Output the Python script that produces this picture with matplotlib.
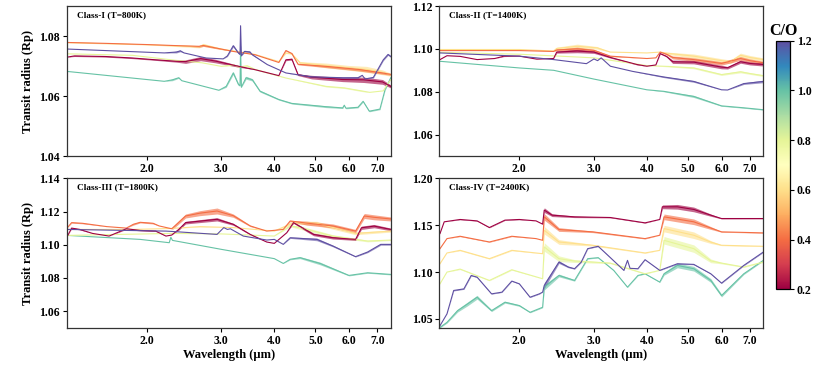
import numpy as np
import matplotlib
matplotlib.use("Agg")
import matplotlib.pyplot as plt
from matplotlib.colors import Normalize
from matplotlib.cm import ScalarMappable
from matplotlib.ticker import FixedLocator, NullLocator, FormatStrFormatter

plt.rcParams['font.family'] = ['Liberation Serif', 'DejaVu Serif']
plt.rcParams['font.weight'] = 'bold'
plt.rcParams['axes.labelweight'] = 'bold'

co_values = [0.2, 0.4, 0.6, 0.8, 1.0, 1.2]
xtick_vals = [2.0, 3.0, 4.0, 5.0, 6.0, 7.0]
titles = ["Class-I (T=800K)", "Class-II (T=1400K)", "Class-III (T=1800K)", "Class-IV (T=2400K)"]
yticks = [[1.04, 1.06, 1.08], [1.06, 1.08, 1.10, 1.12],
          [1.06, 1.08, 1.10, 1.12, 1.14], [1.05, 1.10, 1.15, 1.20]]
ylims = [(1.04, 1.0902), (1.05, 1.12), (1.05, 1.14), (1.0407, 1.20)]

# (wavelength um, transit radius Rp, half-width of the line forest)
# ---- Class-I ----
I_02 = [(1.30,1.0731,0),(1.35,1.0735,0.0002),(1.6,1.0733,0.0002),(1.85,1.0728,0.0002),(2.1,1.0722,0.0002),
        (2.35,1.0717,0.0003),(2.47,1.0716,0.0006),(2.68,1.0726,0.0007),(2.9,1.0718,0.0006),(3.16,1.0706,0.0004),
        (3.3,1.0700,0.0003),(3.6,1.0689,0),(4.1,1.0669,0),(4.26,1.0722,0.0003),(4.4,1.0724,0.0003),
        (4.55,1.0672,0.0003),(4.9,1.0664,0.0006),(5.8,1.0656,0.0007),(6.5,1.0655,0.0009),(7.2,1.0648,0.0008),
        (7.53,1.0633,0.0005)]
I_04 = [(1.30,1.0780,0),(1.6,1.0777,0),(2.0,1.0773,0),(2.4,1.0769,0),(2.66,1.0767,0.0003),(2.72,1.0770,0.0003),
        (2.9,1.0762,0.0002),(3.2,1.0750,0),(3.6,1.0739,0),(4.1,1.0713,0),(4.26,1.0753,0.0002),(4.4,1.0743,0.0002),
        (4.55,1.0707,0.0002),(5.3,1.0700,0.0004),(6.3,1.0690,0.0005),(7.2,1.0678,0.0004),(7.53,1.0673,0.0003)]
I_06 = [(1.30,1.0779,0),(2.0,1.0772,0),(2.66,1.0766,0.0004),(2.72,1.0772,0.0005),(3.0,1.0758,0.0002),
        (3.6,1.0740,0),(4.1,1.0716,0),(4.26,1.0745,0.0002),(4.4,1.0742,0.0002),(4.6,1.0712,0.0004),
        (5.3,1.0703,0.0008),(6.0,1.0695,0.0008),(6.6,1.0690,0.0010),(7.2,1.0680,0.0008),(7.53,1.0672,0.0005)]
I_08 = [(1.30,1.0742,0),(1.85,1.0737,0),(2.35,1.0720,0),(2.7,1.0712,0),(3.0,1.0700,0),(3.2,1.0705,0.0003),
        (3.3,1.0698,0.0002),(3.45,1.0702,0.0003),(3.6,1.0690,0.0002),(4.26,1.0661,0),(5.3,1.0633,0.0002),
        (5.85,1.0628,0.0002),(6.48,1.0617,0.0002),(6.72,1.0613,0),(7.23,1.0618,0),(7.42,1.0643,0),(7.53,1.0655,0)]
I_10 = [(1.30,1.0683,0),(2.2,1.0650,0),(2.3,1.0655,0.0003),(2.38,1.0662,0.0002),(2.42,1.0652,0),(2.96,1.0620,0),
        (3.08,1.0633,0.0003),(3.2,1.0678,0.0005),(3.29,1.0640,0.0004),(3.32,1.0635,0),(3.33,1.0767,0),
        (3.345,1.0630,0),(3.43,1.0662,0.0005),(3.55,1.0655,0.0004),(3.7,1.0617,0.0003),(4.1,1.0589,0.0002),
        (4.4,1.0576,0.0002),(5.3,1.0565,0.0003),(5.8,1.0561,0.0002),(5.85,1.0570,0),(5.9,1.0560,0.0002),
        (6.3,1.0563,0.0002),(6.48,1.0583,0.0002),(6.7,1.0550,0.0002),(7.1,1.0557,0.0002),(7.3,1.0622,0.0002),
        (7.53,1.0662,0.0002)]
I_12 = [(1.30,1.0758,0),(2.2,1.0745,0),(2.35,1.0748,0.0003),(2.4,1.0752,0.0003),(2.45,1.0745,0),(2.76,1.0728,0),
        (3.03,1.0725,0),(3.1,1.0735,0.0002),(3.2,1.0769,0.0004),(3.29,1.0745,0.0003),(3.32,1.0740,0),
        (3.33,1.0836,0),(3.345,1.0735,0),(3.4,1.0750,0.0004),(3.5,1.0748,0.0004),(3.55,1.0739,0.0002),
        (3.85,1.0706,0),(4.26,1.0678,0),(4.9,1.0665,0.0002),(5.8,1.0662,0.0002),(6.3,1.0662,0.0002),
        (6.45,1.0670,0),(6.55,1.0658,0),(6.85,1.0663,0.0002),(7.23,1.0722,0.0003),(7.42,1.0740,0.0003),
        (7.53,1.0733,0.0003)]

# ---- Class-II ----
II_02 = [(1.30,1.0950,0),(1.35,1.0968,0),(1.45,1.0965,0),(1.59,1.0950,0),(1.75,1.0955,0),(1.84,1.0966,0.0002),
         (2.0,1.0966,0),(2.2,1.0952,0),(2.41,1.0955,0),(2.45,1.0985,0.0005),(2.74,1.0990,0.0008),(3.0,1.0985,0.0006),
         (3.28,1.0960,0.0003),(3.79,1.0927,0.0002),(4.0,1.0919,0),(4.2,1.0925,0),(4.3,1.0978,0.0002),
         (4.45,1.0965,0.0003),(4.6,1.0940,0.0008),(5.16,1.0938,0.0008),(6.0,1.0915,0.0008),(6.2,1.0912,0.0006),
         (6.65,1.0940,0.0007),(7.0,1.0932,0.0007),(7.53,1.0927,0.0007)]
II_04 = [(1.30,1.0992,0),(2.0,1.0992,0),(2.41,1.0988,0),(2.45,1.0995,0.0004),(2.74,1.1000,0.0008),(3.0,1.0993,0.0005),
         (3.28,1.0966,0.0002),(4.0,1.0955,0),(4.2,1.0958,0),(4.3,1.0985,0),(4.45,1.0975,0.0003),(4.6,1.0960,0.0007),
         (5.16,1.0950,0.0008),(6.0,1.0932,0.0008),(6.65,1.0955,0.0009),(7.0,1.0945,0.0008),(7.53,1.0935,0.0007)]
II_06 = [(1.30,1.0997,0.0002),(2.0,1.0997,0.0002),(2.41,1.0990,0),(2.45,1.1002,0.0006),(2.74,1.1012,0.0010),
         (3.05,1.1005,0.0006),(3.28,1.0985,0),(4.0,1.0981,0),(4.3,1.0985,0),(4.45,1.0980,0.0005),
         (5.16,1.0966,0.0010),(6.0,1.0945,0.0009),(6.3,1.0940,0.0008),(6.65,1.0970,0.0010),(7.0,1.0960,0.0009),
         (7.53,1.0950,0.0008)]
II_08 = [(1.30,1.0984,0),(2.0,1.0975,0),(2.74,1.0962,0),(3.0,1.0958,0),(4.0,1.0922,0),(4.5,1.0918,0.0002),
         (5.16,1.0911,0.0004),(6.0,1.0880,0.0004),(6.65,1.0893,0.0005),(7.0,1.0885,0.0004),(7.53,1.0875,0.0004)]
II_10 = [(1.30,1.0942,0),(2.0,1.0911,0),(2.41,1.0900,0),(3.0,1.0859,0),(4.0,1.0809,0),(4.38,1.0802,0.0002),
         (5.16,1.0778,0.0005),(6.0,1.0734,0.0002),(6.77,1.0725,0.0002),(7.53,1.0716,0.0002)]
II_12 = [(1.30,1.0981,0),(2.0,1.0966,0),(2.41,1.0950,0),(2.88,1.0931,0),(3.0,1.0953,0),(3.06,1.0945,0),
         (3.12,1.0958,0),(3.28,1.0919,0),(3.7,1.0895,0),(4.38,1.0869,0.0003),(5.16,1.0848,0.0004),(6.0,1.0809,0),
         (6.2,1.0808,0),(6.77,1.0838,0.0004),(7.53,1.0848,0.0006)]

# ---- Class-III ----
III_02 = [(1.30,1.1052,0),(1.33,1.1100,0.0003),(1.39,1.1092,0.0003),(1.49,1.1068,0),(1.63,1.1052,0),
          (1.79,1.1096,0.0004),(1.93,1.1086,0.0003),(2.1,1.1082,0.0002),(2.22,1.1052,0),(2.29,1.1058,0),
          (2.38,1.1092,0.0005),(2.47,1.1133,0.0008),(2.93,1.1153,0.0010),(3.2,1.1123,0.0006),(3.51,1.1062,0.0003),
          (3.84,1.1016,0),(4.0,1.1008,0),(4.28,1.1072,0),(4.44,1.1133,0.0004),(4.77,1.1086,0.0008),
          (4.95,1.1062,0.0008),(5.5,1.1042,0.0008),(6.22,1.1032,0.0006),(6.42,1.1102,0.0010),(6.88,1.1112,0.0010),
          (7.53,1.1092,0.0008)]
III_04 = [(1.30,1.1103,0),(1.33,1.1133,0.0003),(1.41,1.1129,0.0003),(1.61,1.1109,0),(1.79,1.1100,0),
          (1.86,1.1123,0.0005),(1.93,1.1135,0.0004),(2.07,1.1129,0.0004),(2.14,1.1113,0),(2.29,1.1096,0),
          (2.3,1.1100,0.0008),(2.47,1.1173,0.0012),(2.67,1.1190,0.0015),(2.93,1.1203,0.0018),(3.2,1.1175,0.0010),
          (3.51,1.1113,0.0004),(3.84,1.1082,0),(4.2,1.1092,0),(4.36,1.1143,0.0004),(4.77,1.1130,0.0012),
          (5.5,1.1113,0.0012),(6.22,1.1082,0.0010),(6.52,1.1173,0.0015),(6.88,1.1165,0.0015),(7.53,1.1155,0.0012)]
III_06 = [(1.30,1.1092,0),(1.86,1.1092,0),(2.29,1.1098,0),(2.67,1.1109,0.0002),(3.2,1.1103,0),(4.0,1.1082,0),
          (4.44,1.1133,0.0008),(5.04,1.1129,0.0012),(6.22,1.1068,0.0008),(7.53,1.1082,0.0006)]
III_08 = [(1.30,1.1056,0),(2.29,1.1068,0),(3.0,1.1065,0),(4.0,1.1052,0),(4.36,1.1113,0.0005),(4.6,1.1103,0.0010),
          (5.5,1.1052,0.0008),(6.64,1.1022,0.0005),(7.53,1.1028,0.0003)]
III_10 = [(1.30,1.1056,0),(1.93,1.1032,0),(2.26,1.1012,0),(2.28,1.1045,0),(2.3,1.1026,0),(3.0,1.0972,0),
          (4.0,1.0916,0),(4.2,1.0887,0),(4.36,1.0912,0.0003),(4.6,1.0922,0.0006),(5.13,1.0887,0.0008),
          (6.0,1.0815,0.0003),(6.64,1.0831,0.0003),(7.53,1.0821,0.0003)]
III_12 = [(1.30,1.1092,0),(2.22,1.1082,0),(2.29,1.1080,0),(2.93,1.1062,0),(3.04,1.1103,0),(3.1,1.1092,0),
          (3.15,1.1096,0),(3.38,1.1052,0),(3.84,1.1028,0),(4.0,1.1032,0),(4.2,1.1002,0),(4.36,1.1042,0.0004),
          (5.04,1.1032,0.0008),(5.5,1.0992,0.0005),(6.22,1.0928,0.0002),(6.64,1.0956,0.0004),(7.13,1.1002,0.0005),
          (7.53,1.1002,0.0005)]

# ---- Class-IV ----
IV_02 = [(1.30,1.1411,0),(1.33,1.1536,0),(1.45,1.1561,0.0003),(1.59,1.1546,0.0003),(1.70,1.1475,0.0003),
         (1.85,1.1554,0.0003),(2.0,1.1561,0.0003),(2.19,1.1546,0),(2.27,1.1511,0),(2.29,1.1661,0.0025),
         (2.39,1.1607,0.0015),(2.7,1.1589,0.0008),(3.28,1.1582,0.0004),(3.96,1.1525,0.0003),(4.29,1.1561,0),
         (4.35,1.1696,0.0020),(4.72,1.1696,0.0025),(5.16,1.1668,0.0025),(5.66,1.1607,0.0012),(6.0,1.1571,0.0004),
         (7.53,1.1571,0.0003)]
IV_04 = [(1.30,1.1250,0),(1.35,1.1357,0),(1.45,1.1382,0.0004),(1.70,1.1321,0.0003),(1.92,1.1382,0.0004),
         (2.19,1.1357,0),(2.27,1.1339,0),(2.29,1.1589,0.0035),(2.48,1.1454,0.0020),(2.98,1.1429,0.0008),
         (3.96,1.1357,0.0004),(4.29,1.1393,0),(4.39,1.1589,0.0030),(5.16,1.1536,0.0030),(5.66,1.1470,0.0015),
         (6.0,1.1429,0.0004),(7.53,1.1418,0.0003)]
IV_06 = [(1.30,1.1089,0),(1.35,1.1204,0),(1.45,1.1232,0.0005),(1.70,1.1143,0.0004),(1.92,1.1232,0.0005),
         (2.27,1.1196,0),(2.29,1.1446,0.0040),(2.48,1.1321,0.0025),(2.98,1.1286,0.0008),(3.96,1.1204,0.0004),
         (4.29,1.1232,0),(4.39,1.1464,0.0035),(5.16,1.1393,0.0035),(5.66,1.1320,0.0015),(6.0,1.1286,0.0004),
         (7.53,1.1275,0.0003)]
IV_08 = [(1.30,1.0875,0),(1.35,1.1000,0),(1.45,1.1032,0.0005),(1.70,1.0911,0.0004),(1.92,1.1025,0.0005),
         (2.27,1.0929,0),(2.29,1.1268,0.0045),(2.48,1.1143,0.0030),(2.7,1.1118,0.0015),(3.28,1.1096,0.0006),
         (3.96,1.0982,0.0004),(4.29,1.1018,0),(4.39,1.1339,0.0040),(5.16,1.1250,0.0040),(5.66,1.1120,0.0020),
         (6.0,1.1096,0.0008),(6.77,1.1054,0.0004),(7.53,1.1107,0.0004)]
IV_10 = [(1.30,1.0411,0.0005),(1.35,1.0464,0.0008),(1.43,1.0589,0.0015),(1.51,1.0661,0.0020),(1.59,1.0732,0.0020),
         (1.72,1.0589,0.0010),(1.85,1.0679,0.0010),(2.0,1.0643,0.0008),(2.12,1.0571,0.0005),(2.27,1.0625,0.0005),
         (2.29,1.0839,0.0030),(2.48,1.0964,0.0015),(2.7,1.0911,0.0008),(2.9,1.1143,0.0004),(3.07,1.1154,0.0003),
         (3.34,1.1018,0.0003),(3.6,1.0839,0.0003),(3.81,1.0964,0.0003),(3.96,1.0982,0.0003),(4.29,1.0893,0.0003),
         (4.39,1.0982,0.0015),(4.72,1.1071,0.0025),(5.16,1.1036,0.0025),(5.66,1.0911,0.0020),(6.0,1.0750,0.0015),
         (6.77,1.0982,0.0008),(7.53,1.1125,0.0005)]
IV_12 = [(1.30,1.0429,0),(1.35,1.0554,0),(1.40,1.0804,0.0005),(1.48,1.0821,0.0005),(1.54,1.0964,0.0005),
         (1.59,1.0946,0.0004),(1.72,1.0768,0.0003),(1.82,1.0786,0.0003),(1.92,1.0904,0.0003),(2.0,1.0875,0.0003),
         (2.12,1.0732,0.0003),(2.23,1.0768,0.0003),(2.27,1.0786,0),(2.29,1.0857,0.0030),(2.48,1.1107,0.0015),
         (2.61,1.1054,0.0008),(2.7,1.1036,0.0005),(2.8,1.1107,0.0004),(2.9,1.1250,0.0003),(3.07,1.1275,0.0003),
         (3.28,1.1154,0.0002),(3.53,1.1018,0.0002),(3.6,1.1125,0),(3.65,1.1040,0),(3.81,1.1036,0.0002),
         (3.96,1.1132,0.0002),(4.29,1.1018,0.0002),(4.72,1.1089,0.0004),(5.16,1.1082,0.0004),(5.66,1.0982,0.0003),
         (6.0,1.0882,0.0003),(6.77,1.1071,0.0004),(7.53,1.1214,0.0004)]

panels = [
    {0.2: I_02, 0.4: I_04, 0.6: I_06, 0.8: I_08, 1.0: I_10, 1.2: I_12},
    {0.2: II_02, 0.4: II_04, 0.6: II_06, 0.8: II_08, 1.0: II_10, 1.2: II_12},
    {0.2: III_02, 0.4: III_04, 0.6: III_06, 0.8: III_08, 1.0: III_10, 1.2: III_12},
    {0.2: IV_02, 0.4: IV_04, 0.6: IV_06, 0.8: IV_08, 1.0: IV_10, 1.2: IV_12},
]

cmap = plt.get_cmap('Spectral')
norm = Normalize(vmin=0.2, vmax=1.2)

fig = plt.figure(figsize=(8.3, 3.69), dpi=100)
rects = [[0.0804, 0.5772, 0.3904, 0.4065], [0.5293, 0.5772, 0.3904, 0.4065],
         [0.0804, 0.1119, 0.3904, 0.4049], [0.5293, 0.1119, 0.3904, 0.4049]]
draw_order = [1.0, 0.8, 0.6, 0.4, 0.2, 1.2]

for i, rect in enumerate(rects):
    ax = fig.add_axes(rect)
    for co in draw_order:
        wl, r, fz = np.array(panels[i][co]).T
        c = cmap(norm(co))
        if fz.any():
            ax.fill_between(wl, r - fz, r + fz, color=c, alpha=0.6, lw=0)
        ax.plot(wl, r, color=c, lw=0.8)
    ax.set_xscale('log')
    ax.set_xlim(1.295, 7.53)
    ax.set_ylim(*ylims[i])
    ax.xaxis.set_major_locator(FixedLocator(xtick_vals))
    ax.xaxis.set_minor_locator(NullLocator())
    ax.xaxis.set_major_formatter(FormatStrFormatter('%.1f'))
    ax.set_yticks(yticks[i])
    ax.yaxis.set_major_formatter(FormatStrFormatter('%.2f'))
    ax.tick_params(labelsize=8.5, length=3, width=0.8, pad=2)
    for s in ax.spines.values():
        s.set_linewidth(0.9)
        s.set_color('#333333')
    ax.text(0.031, 0.94, titles[i], transform=ax.transAxes, fontsize=6.7,
            fontweight='bold', va='center', ha='left')
    if i % 2 == 0:
        ax.set_ylabel('Transit radius (Rp)', fontsize=9, fontweight='bold', labelpad=4)
    if i >= 2:
        ax.set_xlabel('Wavelength (µm)', fontsize=9, fontweight='bold', labelpad=2)

cax = fig.add_axes([0.9349, 0.216, 0.0169, 0.6737])
sm = ScalarMappable(norm=norm, cmap=cmap)
cb = fig.colorbar(sm, cax=cax, ticks=co_values)
cb.ax.yaxis.set_major_formatter(FormatStrFormatter('%.1f'))
cb.ax.tick_params(labelsize=8.5, length=3, width=0.8, pad=2)
cb.outline.set_linewidth(0.9)
cax.set_title('C/O', fontsize=11.5, fontweight='bold', pad=4)

fig.savefig('out.png', dpi=100)
